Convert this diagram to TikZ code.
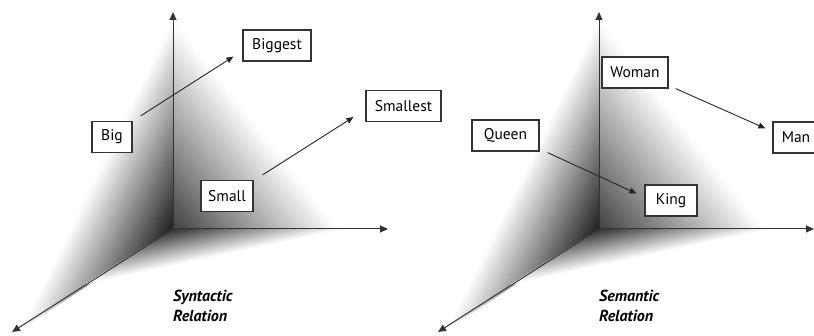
\documentclass[tikz,border=0pt]{standalone}
\usepackage{fontspec}
\setmainfont{PT Sans}
\usetikzlibrary{arrows.meta,calc}
\tikzset{
  wbox/.style={draw=black!80, line width=1.2pt, fill=white, minimum height=31pt,
    inner sep=0pt, font=\fontsize{15.5}{17}\selectfont},
  axis/.style={draw=black!80, line width=1pt, -{Triangle[length=8pt,width=7pt]}},
  conn/.style={draw=black!85, line width=0.9pt, -{Triangle[length=7pt,width=6pt]}},
  rel/.style={align=left, anchor=north west, inner sep=0pt,
    font=\fontsize{16}{20}\selectfont\bfseries\itshape}
}
\newcommand\wallshade[4]{%
  \foreach \wi in {60,...,1}{%
    \pgfmathsetmacro\wt{\wi/60}%
    \pgfmathsetmacro\wk{#4*(1-\wt)}%
    \fill[black!\wk!white] (#1) -- ($(#1)!\wt!(#2)$) -- ($(#1)!\wt!(#3)$) -- cycle;
  }}
\newcommand\panel[2]{%
  \begin{scope}[xshift=#1pt]
    \coordinate (#2o) at (173,229);
    \coordinate (#2top) at (173,12);
    \coordinate (#2right) at (388,229);
    \coordinate (#2diag) at (12,332);
    \coordinate (#2st) at (173,18);
    \coordinate (#2sr) at (340,229);
    \coordinate (#2sd) at (20,330);
    \coordinate (#2sh) at (345,229);
    \coordinate (#2sf) at (84,285);
  \end{scope}
  \wallshade{#2o}{#2st}{#2sd}{88}
  \wallshade{#2o}{#2st}{#2sr}{75}
  \wallshade{#2o}{#2sh}{#2sf}{82}
  \draw[axis] (#2o) -- (#2top);
  \draw[axis] (#2o) -- (#2right);
  \draw[axis] (#2o) -- (#2diag);
}
\begin{document}
\begin{tikzpicture}[x=1pt, y=-1pt]
\useasboundingbox (0,0) rectangle (814,336);
\panel{0}{L}
\panel{426}{R}

% left panel
\node[wbox, minimum width=40pt] (big) at (112,137) {Big};
\node[wbox, minimum width=68pt] (biggest) at (277,45.5) {Biggest};
\node[wbox, minimum width=75pt] (smallest) at (403.5,106) {Smallest};
\node[wbox, minimum width=52pt] (small) at (227,196) {Small};
\draw[conn] ($(big.north east)+(8,-5)$) -- ($(biggest.south west)+(-9,-5)$);
\draw[conn] ($(small.north east)+(9,-5)$) -- ($(smallest.south west)+(-12,-5)$);
\node[rel] (synt) at (173,290) {Syntactic\\Relation};

% right panel
\node[wbox, minimum width=66pt] (woman) at (635,72.5) {Woman};
\node[wbox, minimum width=67pt] (queen) at (505.5,135.5) {Queen};
\node[wbox, minimum width=46pt] (man) at (796,137.5) {Man};
\node[wbox, minimum width=52pt] (king) at (671,200.5) {King};
\draw[conn] ($(queen.south east)+(8,1)$) -- ($(king.west)+(-8,-7)$);
\draw[conn] ($(woman.south east)+(7,0)$) -- ($(man.north west)+(-7,7)$);
\node[rel] (sem) at (599,290) {Semantic\\Relation};
\end{tikzpicture}
\end{document}
